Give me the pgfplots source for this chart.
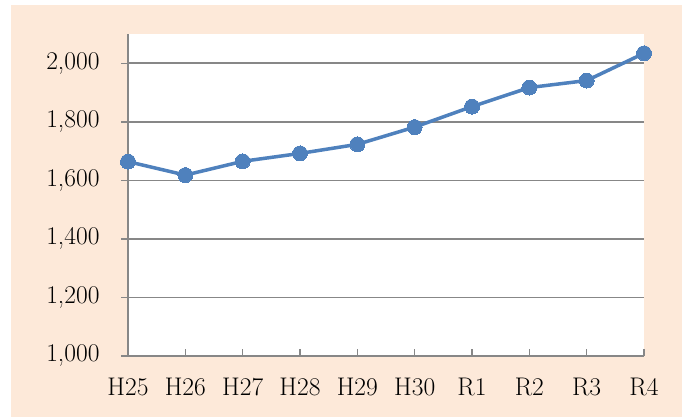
\documentclass[border=0pt]{standalone}
\usepackage{fontspec}
\usepackage{pgfplots}
\pgfplotsset{compat=1.18}
\definecolor{peach}{HTML}{FDE9D9}
\definecolor{serblue}{HTML}{4F81BD}
\definecolor{axgray}{HTML}{878787}
\begin{document}
\begin{tikzpicture}[x=1bp,y=1bp]
\useasboundingbox (0,0) rectangle (682,417);
\fill[peach] (11,0) rectangle (682,412);
\begin{axis}[
  at={(128bp,61bp)}, anchor=south west,
  scale only axis, width=516bp, height=322bp,
  axis background/.style={fill=white},
  xmin=0, xmax=9, ymin=1000, ymax=2100,
  xtick={0,...,9},
  xticklabels={H25,H26,H27,H28,H29,H30,R1,R2,R3,R4},
  ytick={1000,1200,...,2000},
  axis x line*=bottom, axis y line*=left,
  axis line style={axgray, line width=1.6bp},
  ymajorgrids, grid style={axgray, line width=1.6bp},
  tick align=outside, major tick length=7bp,
  tick style={axgray, line width=1.4bp},
  x tick style={yshift=7bp},
  /pgf/number format/assume math mode=true,
  /pgf/number format/1000 sep={,},
  tick label style={font=\fontsize{25.5bp}{30bp}\selectfont},
  yticklabel style={xshift=-18bp},
  xticklabel style={yshift=-12bp},
  clip=false,
]
\addplot[serblue, line width=3.5bp, mark=*, mark size=7.5bp, mark options={fill=serblue, draw=serblue, line width=0pt}]
coordinates {(0,1664) (1,1618) (2,1665) (3,1692) (4,1723) (5,1782) (6,1852) (7,1917) (8,1941) (9,2034)};
\end{axis}
\end{tikzpicture}
\end{document}
